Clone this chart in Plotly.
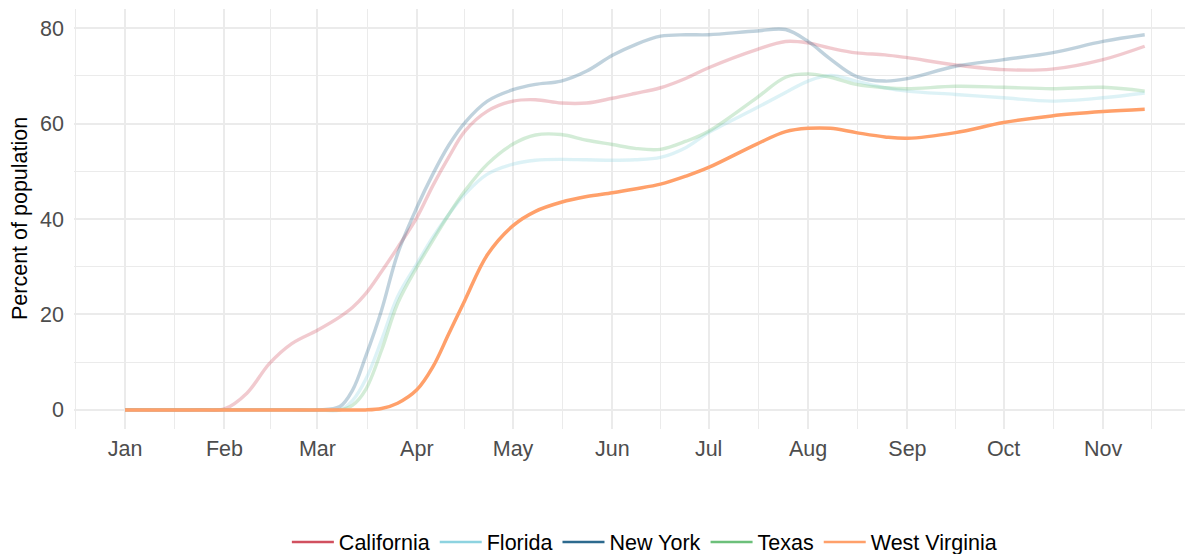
import plotly.graph_objects as go
import pandas as pd

dates = ["2020-01-01", "2020-01-25", "2020-02-01", "2020-02-08", "2020-02-15", "2020-02-22", "2020-03-01",
         "2020-03-08", "2020-03-12", "2020-03-16", "2020-03-21", "2020-03-26", "2020-04-01",
         "2020-04-06", "2020-04-11", "2020-04-16", "2020-04-23", "2020-05-01", "2020-05-08",
         "2020-05-16", "2020-05-24", "2020-06-01", "2020-06-08", "2020-06-16", "2020-06-24",
         "2020-07-01", "2020-07-16", "2020-07-25", "2020-08-01", "2020-08-08", "2020-08-16",
         "2020-08-25", "2020-09-01", "2020-09-16", "2020-10-01", "2020-10-16", "2020-11-01",
         "2020-11-14"]

california = [0, 0, 0.2, 3.5, 9.7, 13.9, 16.7, 19.5, 21.5, 24.3, 29, 34, 40.3,
              47, 53, 58.4, 62.6, 64.7, 65, 64.3, 64.3, 65.3, 66.3, 67.5, 69.5,
              71.7, 75.5, 77.2, 76.9, 75.8, 74.8, 74.4, 73.8, 72.3, 71.3, 71.4, 73.4, 76.2]
florida = [0, 0, 0, 0, 0, 0, 0, 0, 2, 6.3, 14.6, 23.7, 30.6,
           36.2, 41, 45.2, 49.4, 51.5, 52.3, 52.5, 52.4, 52.3, 52.4, 52.9, 55,
           58.1, 63.3, 66.5, 68.9, 70.1, 68.9, 67.5, 66.8, 66.1, 65.4, 64.7, 65.4, 66.4]
new_york = [0, 0, 0, 0, 0, 0, 0, 0.7, 4.2, 11.1, 20.9, 32.7, 42.4,
            49.4, 55.5, 60.2, 64.7, 67.1, 68.2, 68.9, 71, 74.3, 76.5, 78.3, 78.6,
            78.6, 79.4, 79.7, 77.2, 73.5, 69.9, 68.9, 69.4, 72, 73.4, 74.8, 77.2, 78.6]
texas = [0, 0, 0, 0, 0, 0, 0, 0, 1, 4.2, 12.5, 22.3, 29.9,
         35.5, 41, 45.9, 51.5, 55.7, 57.6, 57.7, 56.5, 55.6, 54.8, 54.6, 56.3,
         58.4, 65.4, 69.7, 70.4, 69.7, 68.2, 67.5, 67.3, 67.8, 67.6, 67.3, 67.6, 66.8]
west_virginia = [0, 0, 0, 0, 0, 0, 0, 0, 0, 0, 0.3, 1.4, 4.2,
                 9, 16, 23, 32.5, 38.6, 41.6, 43.5, 44.7, 45.5, 46.3, 47.3, 49,
                 50.8, 55.7, 58.3, 59, 59, 58.1, 57.2, 56.9, 58.1, 60.2, 61.6, 62.5, 63]

states = ["California", "Florida", "New York", "Texas", "West Virginia"]
series = [california, florida, new_york, texas, west_virginia]
colors = ["#d1505f", "#8dd3e0", "#2d6a8e", "#6cc07a", "#ffa06a"]
faded_alpha = 0.3

month_ticks = pd.date_range("2020-01-01", "2020-11-01", freq="MS")
month_labels = ["Jan", "Feb", "Mar", "Apr", "May", "Jun", "Jul", "Aug", "Sep", "Oct", "Nov"]
y_ticks = [0, 20, 40, 60, 80]
y_minor = [10, 30, 50, 70]


def rgba(hex_color, a):
    h = hex_color.lstrip("#")
    r, g, b = int(h[0:2], 16), int(h[2:4], 16), int(h[4:6], 16)
    return f"rgba({r},{g},{b},{a})"


fig = go.Figure()
for name, vals, col in zip(states, series, colors):
    if name == "West Virginia":
        continue
    fig.add_trace(go.Scatter(
        x=dates, y=vals, mode="lines", name=name, showlegend=False,
        line=dict(color=rgba(col, faded_alpha), width=3.4, shape="spline", smoothing=1.0),
        hoverinfo="skip"))
fig.add_trace(go.Scatter(
    x=dates, y=west_virginia, mode="lines", name="West Virginia", showlegend=False,
    line=dict(color=colors[4], width=3.5, shape="spline", smoothing=1.0)))

for name, col in zip(states, colors):
    fig.add_trace(go.Scatter(x=[None], y=[None], mode="lines", name=name,
                             line=dict(color=col, width=2.5), showlegend=True))

all_months = pd.date_range("2019-12-01", "2020-12-01", freq="MS")
minor_vals = [all_months[i] + (all_months[i + 1] - all_months[i]) / 2 for i in range(len(all_months) - 1)]

grid = "#ebebeb"
FS = 21.5
# the page body has an 8px margin, so figure coordinates are offset by 8px on screen
W, H = 1193, 554
L, R, T, B = 66, 13, 1, 133
plot_w = W - L - R

fig.update_layout(
    width=W, height=H,
    margin=dict(l=L, r=R, t=T, b=B, autoexpand=False),
    paper_bgcolor="white", plot_bgcolor="white",
    font=dict(family="Liberation Sans, Arial, sans-serif", color="#000000"),
    xaxis=dict(
        type="date", automargin=False,
        range=["2019-12-16 02:00", "2020-11-27 12:00"],
        tickmode="array", tickvals=list(month_ticks), ticktext=month_labels,
        tickfont=dict(size=FS, color="#4d4d4d"), ticklabelstandoff=4,
        showgrid=True, gridcolor=grid, gridwidth=1.5,
        zeroline=False, showline=False, ticks="", ticklen=0,
        minor=dict(showgrid=True, tickmode="array", tickvals=minor_vals,
                   gridcolor=grid, gridwidth=0.8),
    ),
    yaxis=dict(
        automargin=False,
        range=[-4, 84],
        tickmode="array", tickvals=y_ticks,
        tickfont=dict(size=FS, color="#4d4d4d"), ticklabelstandoff=9,
        showgrid=True, gridcolor=grid, gridwidth=1.5,
        zeroline=False, showline=False, ticks="", ticklen=0,
        minor=dict(showgrid=True, tickmode="array", tickvals=y_minor,
                   gridcolor=grid, gridwidth=0.8),
    ),
    legend=dict(orientation="h", x=0.512, xanchor="center", y=-0.269, yanchor="middle",
                font=dict(size=FS, color="#000000"), itemwidth=42,
                bgcolor="rgba(0,0,0,0)"),
    showlegend=True,
    annotations=[dict(text="Percent of population", textangle=-90,
                      xref="paper", yref="paper", x=-(L - 12) / plot_w, y=0.5,
                      xanchor="center", yanchor="middle", showarrow=False,
                      font=dict(size=FS, color="#000000"))],
)

fig.write_html("out.html")
